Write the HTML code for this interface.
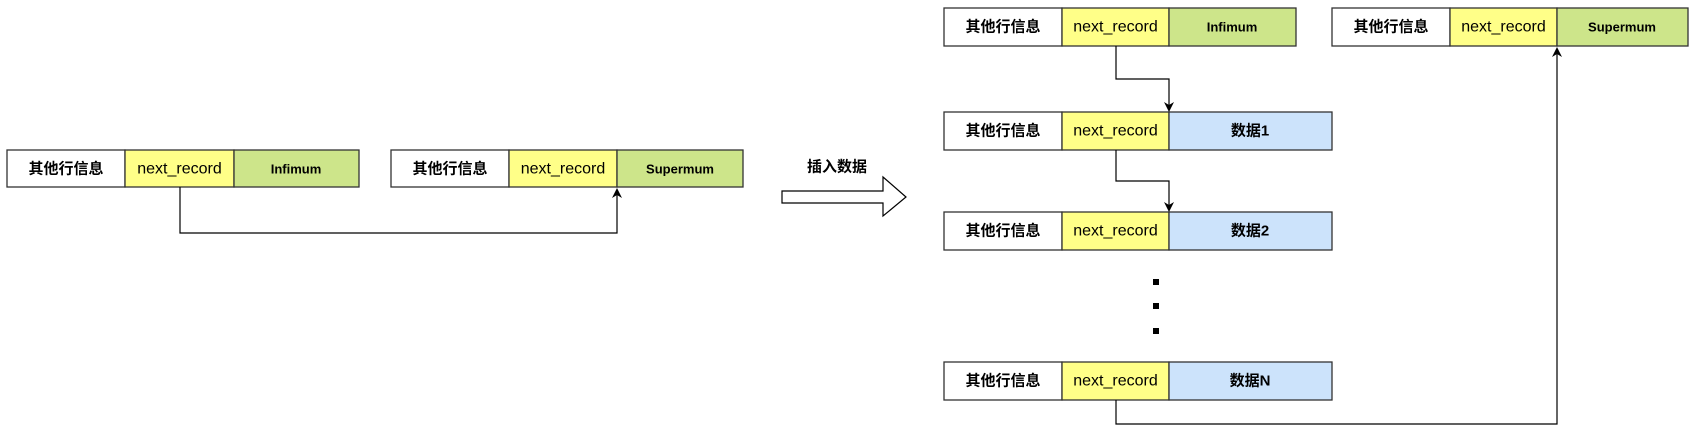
<!DOCTYPE html>
<html><head><meta charset="utf-8"><style>
html,body{margin:0;padding:0;background:#fff;}
svg{display:block;}
text{font-family:"Liberation Sans","Noto Sans CJK SC",sans-serif;font-weight:bold;fill:#000;}
.cn{font-size:15px;}
.nr{font-size:16px;font-weight:normal;}
.sm{font-size:13px;}
</style></head><body>
<svg width="1689" height="443" viewBox="0 0 1689 443" xmlns="http://www.w3.org/2000/svg">
<g stroke="#333" stroke-width="1.3">
<rect x="7" y="150" width="118" height="37" fill="#fff"/>
<rect x="125" y="150" width="109" height="37" fill="#ffff88"/>
<rect x="234" y="150" width="125" height="37" fill="#cde58a"/>
<rect x="391" y="150" width="118" height="37" fill="#fff"/>
<rect x="509" y="150" width="108" height="37" fill="#ffff88"/>
<rect x="617" y="150" width="126" height="37" fill="#cde58a"/>
<rect x="944" y="8" width="118" height="38" fill="#fff"/>
<rect x="1062" y="8" width="107" height="38" fill="#ffff88"/>
<rect x="1169" y="8" width="127" height="38" fill="#cde58a"/>
<rect x="944" y="112" width="118" height="38" fill="#fff"/>
<rect x="1062" y="112" width="107" height="38" fill="#ffff88"/>
<rect x="1169" y="112" width="163" height="38" fill="#cce3fb"/>
<rect x="944" y="212" width="118" height="38" fill="#fff"/>
<rect x="1062" y="212" width="107" height="38" fill="#ffff88"/>
<rect x="1169" y="212" width="163" height="38" fill="#cce3fb"/>
<rect x="944" y="362" width="118" height="38" fill="#fff"/>
<rect x="1062" y="362" width="107" height="38" fill="#ffff88"/>
<rect x="1169" y="362" width="163" height="38" fill="#cce3fb"/>
<rect x="1332" y="8" width="118" height="38" fill="#fff"/>
<rect x="1450" y="8" width="107" height="38" fill="#ffff88"/>
<rect x="1557" y="8" width="131" height="38" fill="#cde58a"/>
</g>
<g stroke="#000" stroke-width="1.2" fill="none">
<polyline points="180,187 180,233 617,233 617,194"/>
<polyline points="1116,46 1116,79 1169,79 1169,105"/>
<polyline points="1116,150 1116,181 1169,181 1169,205"/>
<polyline points="1116,400 1116,424 1557,424 1557,53"/>
</g>
<g fill="#000">
<path d="M617,188 L612,198 L617,195 L622,198 Z"/>
<path d="M1169,112 L1164,102 L1169,105 L1174,102 Z"/>
<path d="M1169,212 L1164,202 L1169,205 L1174,202 Z"/>
<path d="M1557,47 L1552,57 L1557,54 L1562,57 Z"/>
<rect x="1153" y="279" width="6" height="6"/>
<rect x="1153" y="303" width="6" height="6"/>
<rect x="1153" y="328" width="6" height="6"/>
</g>
<path d="M782,191 L883,191 L883,177 L906,197 L883,216 L883,203 L782,203 Z" fill="#fff" stroke="#000" stroke-width="1.2"/>
<g text-anchor="middle" dominant-baseline="central">
<text class="cn" x="66" y="169">其他行信息</text>
<text class="nr" x="179.5" y="169">next_record</text>
<text class="sm" x="296" y="169">Infimum</text>
<text class="cn" x="450" y="169">其他行信息</text>
<text class="nr" x="563" y="169">next_record</text>
<text class="sm" x="680" y="169">Supermum</text>
<text class="cn" x="837" y="167">插入数据</text>
<text class="cn" x="1003" y="27">其他行信息</text>
<text class="nr" x="1115.5" y="27">next_record</text>
<text class="sm" x="1232" y="27">Infimum</text>
<text class="cn" x="1003" y="131">其他行信息</text>
<text class="nr" x="1115.5" y="131">next_record</text>
<text class="cn" x="1250" y="131">数据1</text>
<text class="cn" x="1003" y="231">其他行信息</text>
<text class="nr" x="1115.5" y="231">next_record</text>
<text class="cn" x="1250" y="231">数据2</text>
<text class="cn" x="1003" y="381">其他行信息</text>
<text class="nr" x="1115.5" y="381">next_record</text>
<text class="cn" x="1250" y="381">数据N</text>
<text class="cn" x="1391" y="27">其他行信息</text>
<text class="nr" x="1503.5" y="27">next_record</text>
<text class="sm" x="1622" y="27">Supermum</text>
</g>
</svg>
</body></html>
